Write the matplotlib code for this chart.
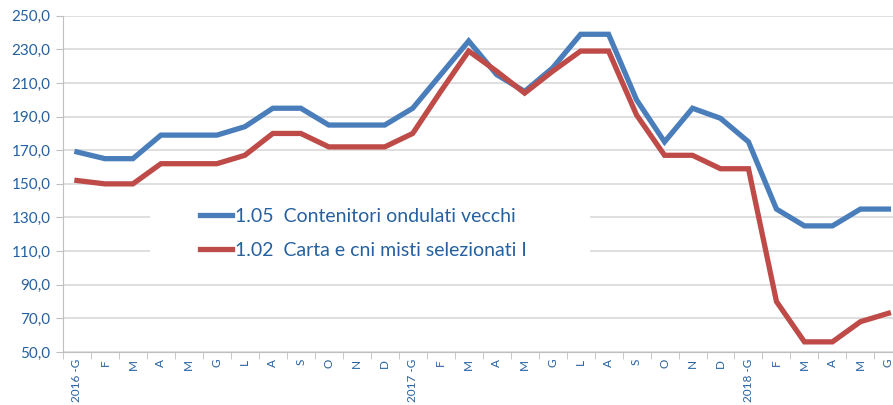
import matplotlib.pyplot as plt
from matplotlib.patches import Rectangle
from matplotlib.ticker import FuncFormatter

months = ['2016 -G', 'F', 'M', 'A', 'M', 'G', 'L', 'A', 'S', 'O', 'N', 'D',
          '2017 -G', 'F', 'M', 'A', 'M', 'G', 'L', 'A', 'S', 'O', 'N', 'D',
          '2018 -G', 'F', 'M', 'A', 'M', 'G']

ondulati = [169, 165, 165, 179, 179, 179, 184, 195, 195, 185, 185, 185,
            195, 215, 235, 215, 205, 219, 239, 239, 200, 175, 195, 189,
            175, 135, 125, 125, 135, 135]
carta = [152, 150, 150, 162, 162, 162, 167, 180, 180, 172, 172, 172,
         180, 205, 229, 217, 204, 217, 229, 229, 191, 167, 167, 159,
         159, 80, 56, 56, 68, 73]

names = ['1.05  Contenitori ondulati vecchi', '1.02  Carta e cni misti selezionati I']

blue = '#4A7EBB'
red = '#BE4B48'
txt = '#2560A0'

plt.rcParams['font.family'] = ['Lato', 'DejaVu Sans']

fig = plt.figure(figsize=(8.93, 4.05), dpi=100)
ax = fig.add_axes([0.0705, 0.131, 0.94, 0.830])

x = list(range(len(months)))
ax.plot(x, ondulati, color=blue, lw=3.8, solid_joinstyle='miter', label=names[0], zorder=3)
ax.plot(x, carta, color=red, lw=3.8, solid_joinstyle='miter', label=names[1], zorder=3)

ax.set_xlim(-0.5, len(months) - 0.5)
ax.set_ylim(50, 250)
ax.set_yticks(range(50, 251, 20))
ax.yaxis.set_major_formatter(FuncFormatter(lambda v, p: f'{v:.1f}'.replace('.', ',')))
ax.grid(axis='y', color='#D9D9D9', lw=1.2, zorder=0)

ax.set_xticks(x)
ax.set_xticklabels(months, rotation=90, fontsize=8.5, color=txt, va='top')
ax.tick_params(axis='x', which='major', length=0, pad=5)
ax.set_xticks([i - 0.5 for i in range(len(months) + 1)], minor=True)
ax.tick_params(axis='x', which='minor', length=5, color='#BFBFBF')
ax.tick_params(axis='y', length=5, color='#BFBFBF', labelsize=11, labelcolor=txt, pad=4)

for s in ['top', 'right']:
    ax.spines[s].set_visible(False)
ax.spines['left'].set_color('#BFBFBF')
ax.spines['bottom'].set_color('#BFBFBF')

# white box behind the legend, as in the original
ax.add_patch(Rectangle((150 / 893, 1 - 268 / 405), 440 / 893, 73 / 405,
                       transform=fig.transFigure, facecolor='white',
                       edgecolor='none', zorder=2))

leg = ax.legend(loc='upper left', bbox_to_anchor=(200 / 893, 1 - 208 / 405),
                bbox_transform=fig.transFigure, frameon=False,
                fontsize=14, handlelength=1.65, handletextpad=0.15,
                labelspacing=0.85, borderpad=0, borderaxespad=0)
for t in leg.get_texts():
    t.set_color(txt)
leg.set_zorder(5)

fig.savefig('out.png', dpi=100)
